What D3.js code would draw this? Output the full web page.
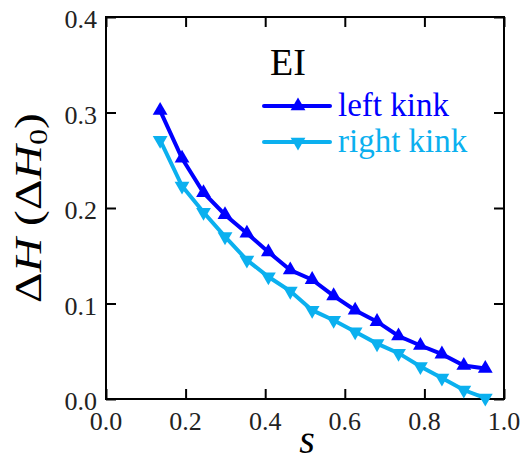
<!DOCTYPE html>
<html>
<head>
<meta charset="utf-8">
<script src="https://cdn.jsdelivr.net/npm/d3@7"></script>
<style>
  body { margin: 0; background: #fff; }
</style>
</head>
<body>
<div id="chart"></div>
<script>
// s values (same for both curves)
var sVals = [0.136, 0.191, 0.245, 0.299, 0.354, 0.408, 0.463, 0.518, 0.572, 0.626, 0.681, 0.735, 0.790, 0.844, 0.899, 0.953];
var leftKink = [0.302, 0.252, 0.216, 0.193, 0.1735, 0.154, 0.135, 0.125, 0.108, 0.093, 0.081, 0.066, 0.056, 0.047, 0.035, 0.032];
var rightKink = [0.271, 0.223, 0.1955, 0.170, 0.1455, 0.128, 0.113, 0.093, 0.0825, 0.0705, 0.058, 0.048, 0.034, 0.022, 0.0094, 0.001];
var xTicks = [0, 0.2, 0.4, 0.6, 0.8, 1.0];
var yTicks = [0, 0.1, 0.2, 0.3, 0.4];
var seriesNames = ["left kink", "right kink"];

var W = 523, H = 463;
var serif = "\"Liberation Serif\", \"Times New Roman\", serif";
var svg = d3.select("#chart").append("svg").attr("width", W).attr("height", H)
  .style("font-family", serif);

var x = d3.scaleLinear().domain([0, 1]).range([106, 504]);
var y = d3.scaleLinear().domain([0, 0.4]).range([399, 17]);

var series = [
  { name: seriesNames[0], vals: leftKink, color: "#0000ff", rot: 0 },
  { name: seriesNames[1], vals: rightKink, color: "#0bb0ef", rot: 180 }
];

var tri = d3.symbol().type(d3.symbolTriangle).size(95);
var line = d3.line().x(function(d) { return x(d[0]); }).y(function(d) { return y(d[1]); });

// frame + inward ticks on all sides
var frame = svg.append("g");
frame.append("rect")
  .attr("x", x(0)).attr("y", y(0.4))
  .attr("width", x(1) - x(0)).attr("height", y(0) - y(0.4))
  .attr("fill", "none").attr("stroke", "#000").attr("stroke-width", 2);

frame.append("g").attr("transform", "translate(0," + y(0) + ")")
  .call(d3.axisBottom(x).tickValues(xTicks).tickSize(-10).tickFormat(""));
frame.append("g").attr("transform", "translate(0," + y(0.4) + ")")
  .call(d3.axisTop(x).tickValues(xTicks).tickSize(-10).tickFormat(""));
frame.append("g").attr("transform", "translate(" + x(0) + ",0)")
  .call(d3.axisLeft(y).tickValues(yTicks).tickSize(-10).tickFormat(""));
frame.append("g").attr("transform", "translate(" + x(1) + ",0)")
  .call(d3.axisRight(y).tickValues(yTicks).tickSize(-10).tickFormat(""));
frame.selectAll(".domain").remove();
frame.selectAll(".tick line").attr("stroke", "#000").attr("stroke-width", 2);

// tick labels
svg.selectAll(".xl").data(xTicks).enter().append("text")
  .attr("x", function(d) { return x(d); }).attr("y", 430)
  .attr("text-anchor", "middle").attr("font-size", 26).attr("fill", "#222")
  .style("font-family", serif)
  .text(function(d) { return d3.format(".1f")(d); });
svg.selectAll(".yl").data(yTicks).enter().append("text")
  .attr("x", 97).attr("y", function(d) { return y(d) + 11; })
  .attr("text-anchor", "end").attr("font-size", 26).attr("fill", "#222")
  .style("font-family", serif)
  .text(function(d) { return d3.format(".1f")(d); });

// axis titles
svg.append("text")
  .attr("x", 307).attr("y", 453)
  .attr("text-anchor", "middle").attr("font-size", 40).attr("font-style", "italic")
  .style("font-family", serif)
  .text("s");

var yt = svg.append("text")
  .attr("transform", "translate(41,208) rotate(-90)")
  .attr("text-anchor", "middle").attr("font-size", 37)
  .style("font-family", serif)
  .attr("textLength", 190).attr("lengthAdjust", "spacingAndGlyphs");
yt.append("tspan").text("Δ");
yt.append("tspan").attr("font-style", "italic").text("H");
yt.append("tspan").text(" (Δ");
yt.append("tspan").attr("font-style", "italic").text("H");
yt.append("tspan").attr("font-size", 25).attr("dy", 6).text("0");
yt.append("tspan").attr("dy", -6).text(")");

// data
series.forEach(function(s) {
  var pts = sVals.map(function(v, i) { return [v, s.vals[i]]; });
  svg.append("path").datum(pts)
    .attr("d", line).attr("fill", "none")
    .attr("stroke", s.color).attr("stroke-width", 4);
  svg.selectAll(null).data(pts).enter().append("path")
    .attr("d", tri)
    .attr("transform", function(d) { return "translate(" + x(d[0]) + "," + y(d[1]) + ") rotate(" + s.rot + ")"; })
    .attr("fill", s.color);
});

// legend
svg.append("text").attr("x", 270).attr("y", 75).attr("font-size", 38)
  .style("font-family", serif).text("EI");
var leg = svg.selectAll(".leg").data(series).enter().append("g")
  .attr("transform", function(d, i) { return "translate(0," + (106 + i * 36) + ")"; });
leg.append("line").attr("x1", 264).attr("x2", 330).attr("y1", 0).attr("y2", 0)
  .attr("stroke", function(d) { return d.color; }).attr("stroke-width", 4).attr("stroke-linecap", "round");
leg.append("path").attr("d", tri)
  .attr("transform", function(d) { return "translate(298,0) rotate(" + d.rot + ")"; })
  .attr("fill", function(d) { return d.color; });
leg.append("text").attr("x", 338).attr("y", 10).attr("font-size", 33)
  .style("font-family", serif)
  .attr("fill", function(d) { return d.color; })
  .text(function(d) { return d.name; });
</script>
</body>
</html>
